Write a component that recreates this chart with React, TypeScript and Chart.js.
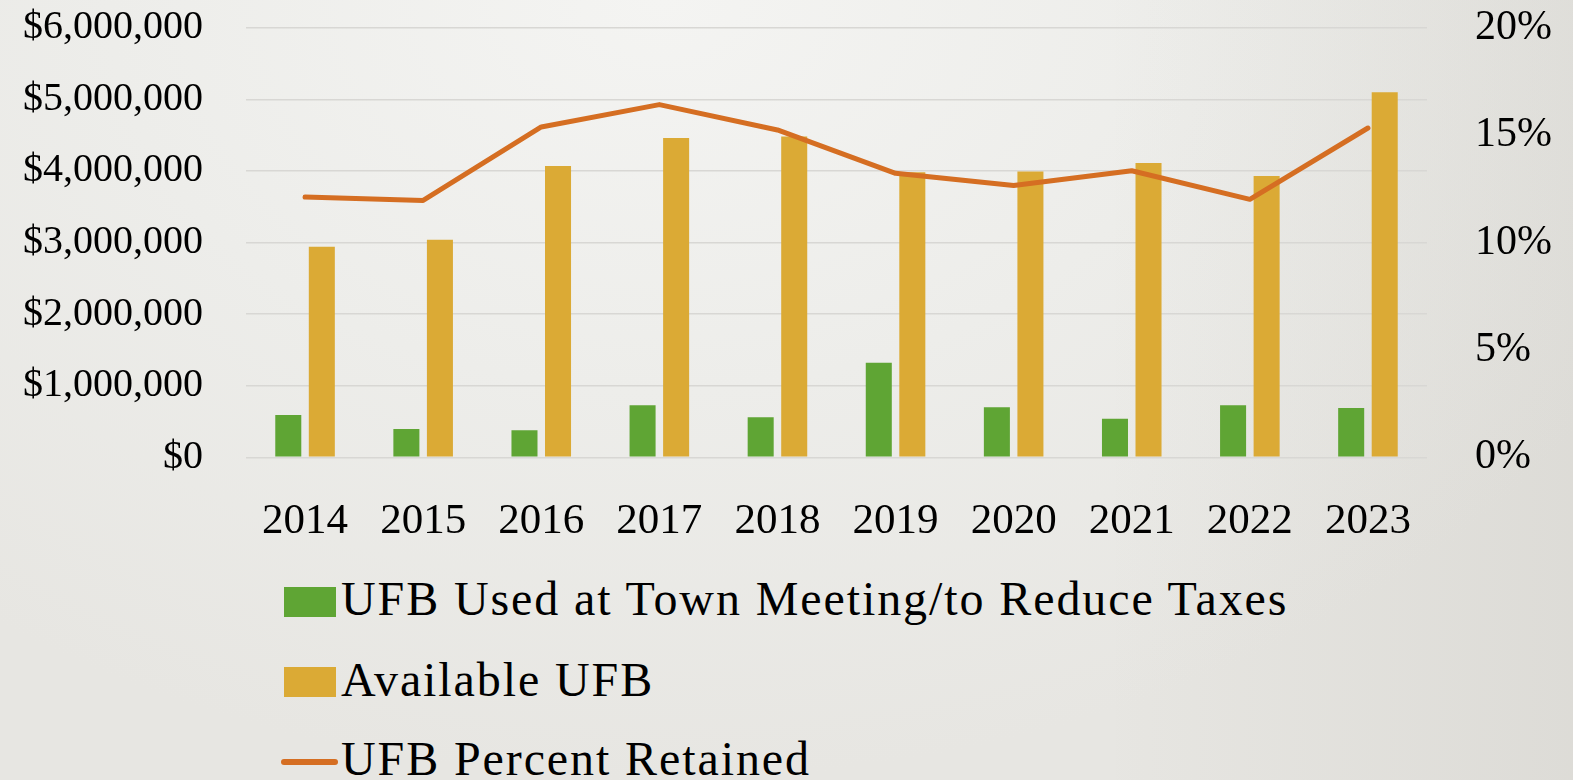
import React, { useEffect, useRef } from "react";
import { Chart, registerables } from "chart.js";

Chart.register(...registerables);

const years = ["2014", "2015", "2016", "2017", "2018", "2019", "2020", "2021", "2022", "2023"];
const ufbUsed = [590000, 395000, 377000, 726000, 559000, 1320000, 700000, 540000, 726000, 690000];
const availableUfb = [2940000, 3040000, 4070000, 4460000, 4480000, 3980000, 3990000, 4110000, 3930000, 5100000];
const percentRetained = [12.12, 11.96, 15.38, 16.42, 15.24, 13.22, 12.65, 13.34, 12.01, 15.33];

const seriesNames = ["UFB Used at Town Meeting/to Reduce Taxes", "Available UFB", "UFB Percent Retained"];
const seriesColors = ["#5FA534", "#DBAA35", "#D56E22"];

const moneyMin = 0;
const moneyMax = 6000000;
const moneyStep = 1000000;
const pctMin = 0;
const pctMax = 20;
const pctStep = 5;

const FONT = "'Liberation Serif', 'Times New Roman', serif";

export default function App() {
  const canvasRef = useRef<HTMLCanvasElement | null>(null);

  useEffect(() => {
    if (!canvasRef.current) return;
    const zeroPad = (s: any) => {
      s.paddingTop = 0;
      s.paddingBottom = 0;
    };
    const chart = new Chart(canvasRef.current, {
      type: "bar",
      data: {
        labels: years,
        datasets: [
          {
            type: "line",
            label: seriesNames[2],
            data: percentRetained,
            yAxisID: "yPct",
            borderColor: seriesColors[2],
            backgroundColor: seriesColors[2],
            borderWidth: 5,
            pointRadius: 0,
            tension: 0,
            borderCapStyle: "round",
            borderJoinStyle: "round",
            order: 0,
          } as any,
          {
            type: "bar",
            label: seriesNames[0],
            data: ufbUsed,
            yAxisID: "yMoney",
            backgroundColor: seriesColors[0],
            borderWidth: 0,
            categoryPercentage: 0.568,
            barPercentage: 0.776,
            order: 1,
          },
          {
            type: "bar",
            label: seriesNames[1],
            data: availableUfb,
            yAxisID: "yMoney",
            backgroundColor: seriesColors[1],
            borderWidth: 0,
            categoryPercentage: 0.568,
            barPercentage: 0.776,
            order: 1,
          },
        ],
      },
      options: {
        responsive: false,
        animation: false,
        devicePixelRatio: 1,
        layout: { padding: { top: 27.7, left: 0, right: 0, bottom: 0 } },
        plugins: {
          legend: { display: false },
          tooltip: { enabled: false },
        },
        scales: {
          x: {
            type: "category",
            offset: true,
            grid: { display: false, drawTicks: false },
            border: { display: false },
            ticks: {
              color: "#000",
              padding: 39,
              maxRotation: 0,
              font: { family: FONT, size: 43 },
            },
            afterFit: (s: any) => {
              s.height = 560 - 457.3;
            },
          },
          yMoney: {
            type: "linear",
            position: "left",
            min: moneyMin,
            max: moneyMax,
            grid: { color: "#D8D7D4", lineWidth: 1.5, drawTicks: false },
            border: { display: false },
            ticks: {
              stepSize: moneyStep,
              color: "#000",
              padding: 43,
              font: { family: FONT, size: 40 },
              callback: (v: any) => "$" + Number(v).toLocaleString("en-US"),
            },
            afterFit: (s: any) => {
              s.width = 246;
              zeroPad(s);
            },
          },
          yPct: {
            type: "linear",
            position: "right",
            min: pctMin,
            max: pctMax,
            grid: { display: false, drawTicks: false },
            border: { display: false },
            ticks: {
              stepSize: pctStep,
              color: "#000",
              padding: 48,
              font: { family: FONT, size: 42 },
              callback: (v: any) => v + "%",
            },
            afterFit: (s: any) => {
              s.width = 1573 - 1427;
              zeroPad(s);
            },
          },
        },
      } as any,
    });
    return () => chart.destroy();
  }, []);

  const textStyle: React.CSSProperties = {
    position: "absolute",
    left: 341,
    fontFamily: FONT,
    fontSize: 48,
    lineHeight: "48px",
    letterSpacing: "1.9px",
    color: "#000",
    whiteSpace: "nowrap",
  };

  return (
    <div
      style={{
        position: "absolute",
        left: 0,
        top: 0,
        width: 1573,
        height: 780,
        overflow: "hidden",
        background:
          "linear-gradient(to right, rgba(90,85,70,0) 70%, rgba(90,85,70,0.07) 100%), radial-gradient(ellipse 70% 100% at 42% 0%, #F4F4F2 0%, #EDEDEA 50%, #E7E6E2 100%)",
      }}
    >
      <canvas
        ref={canvasRef}
        width={1573}
        height={560}
        style={{ position: "absolute", left: 0, top: 0, width: 1573, height: 560, display: "block" }}
      />
      <div style={{ position: "absolute", left: 284, top: 587, width: 52, height: 30, background: seriesColors[0] }} />
      <div style={{ ...textStyle, top: 575 }}>{seriesNames[0]}</div>
      <div style={{ position: "absolute", left: 284, top: 667, width: 52, height: 30, background: seriesColors[1] }} />
      <div style={{ ...textStyle, top: 656 }}>{seriesNames[1]}</div>
      <div
        style={{
          position: "absolute",
          left: 281,
          top: 759,
          width: 57,
          height: 6,
          borderRadius: 3,
          background: seriesColors[2],
        }}
      />
      <div style={{ ...textStyle, top: 735 }}>{seriesNames[2]}</div>
    </div>
  );
}
